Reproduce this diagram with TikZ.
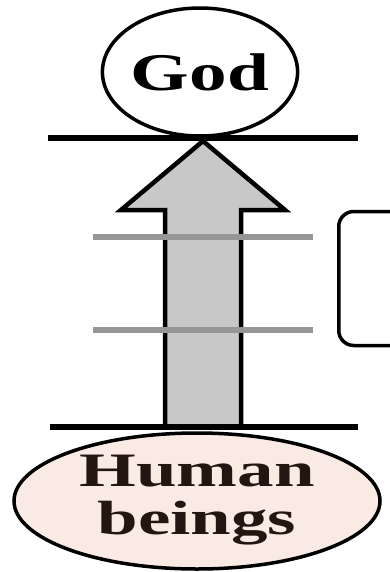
\documentclass[tikz,border=0pt]{standalone}
\usepackage{fontspec}
\setmainfont{Liberation Serif}
\usepackage{graphicx}
\usetikzlibrary{shapes.geometric}

\definecolor{humanfill}{RGB}{250,234,228}
\definecolor{arrowfill}{RGB}{200,200,200}
\definecolor{tickgray}{RGB}{150,150,150}
\definecolor{inkdark}{RGB}{35,22,18}

% wide letters as in the picture
\newcommand{\widetext}[2]{\scalebox{#1}[1]{#2}}

\tikzset{
  godnode/.style={ellipse, draw, line width=3.5pt, fill=white, inner sep=0pt,
    minimum width=190pt, minimum height=128pt},
  humannode/.style={ellipse, draw, line width=3.5pt, fill=humanfill, inner sep=0pt,
    minimum width=366pt, minimum height=136pt, text=inkdark},
  notebox/.style={draw, line width=3.5pt, rounded corners=15pt, fill=white,
    minimum width=100pt, minimum height=134pt},
  barline/.style={line width=6pt},
  tickline/.style={tickgray, line width=6pt},
  blockarrow/.style={draw, line width=4.5pt, fill=arrowfill, line join=miter}
}

\begin{document}
\begin{tikzpicture}[x=1pt, y=-1pt]
  \clip (0,0) rectangle (390,572);
  \fill[white] (0,0) rectangle (390,572);

  % the box at the right edge
  \node[notebox, anchor=west] (note) at (337,278.5) {};

  % block arrow from the human beings up to God
  \coordinate (tip) at (203,141);
  \coordinate (foot) at (203,427);
  \draw[blockarrow] (tip) -- ++(82,69) -- ++(-44,0) |- (foot) -- ++(-38,0)
    -- ++(0,-217) -- ++(-44,0) -- cycle;

  % the two gray marks across the arrow
  \foreach \y in {237,330} {
      \draw[tickline] (93,\y) -- (313,\y);
  }

  % the two levels
  \draw[barline] (48,138) -- (358,138);
  \draw[barline] (50,427) -- (358,427);

  \node[godnode] (god) at (200,72)
    {\fontsize{53}{53}\selectfont\bfseries\widetext{1.42}{God}};
  \node[humannode] (human) at (197,501)
    {\fontsize{48}{47}\selectfont\bfseries\widetext{1.52}{\begin{tabular}{@{}c@{}}Human\\beings\end{tabular}}};
\end{tikzpicture}
\end{document}
